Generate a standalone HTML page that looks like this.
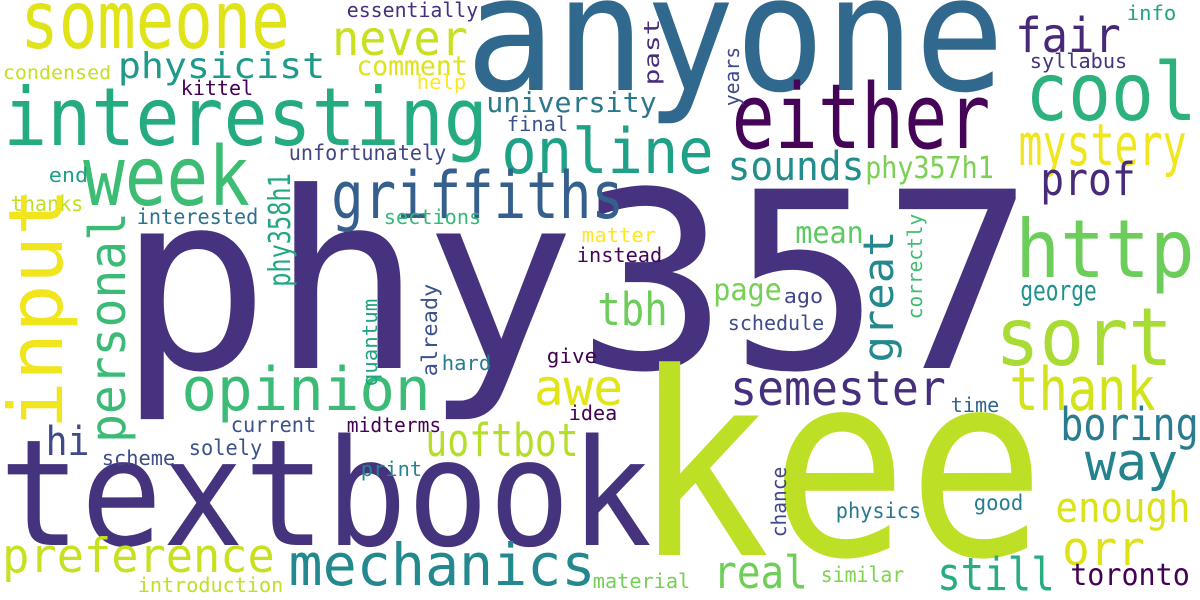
<!DOCTYPE html>
<html><head><meta charset="utf-8"><style>
html,body{margin:0;padding:0;background:#fff;}
svg{display:block;}
text{font-family:"DejaVu Sans Mono","Liberation Mono",monospace;}
</style></head><body>
<svg id="cloud" width="1200" height="600" viewBox="0 0 1200 600" xmlns="http://www.w3.org/2000/svg">
<rect width="1200" height="600" fill="#fff"/>
</svg>
<script>
// word, left, right(or top for rotated), baseline(x for rotated), size, color, rotated
const words = [
["phy357",132,1020,368,246,"#46327e",0],
["kee",648,1030,555,255,"#bddf26",0],
["textbook",8,643,545,148,"#46337e",0],
["anyone",475,995,90,160,"#31688e",0],
["someone",25,285,48,80,"#dfe318",0],
["essentially",348,477,17,20,"#472f7d",0],
["never",335,465,55,48,"#c8e020",0],
["physicist",120,323,78,36,"#1f9a8a",0],
["condensed",4,110,79,19,"#c5e021",0],
["comment",358,466,75,27,"#dde318",0],
["help",418,465,89,20,"#fde725",0],
["kittel",182,252,95,20,"#440154",0],
["interesting",8,483,145,80,"#25ab82",0],
["university",488,655,112,28,"#2a788e",0],
["final",508,567,131,20,"#3b528b",0],
["online",505,710,173,62,"#1fa187",0],
["either",737,985,148,90,"#450457",0],
["cool",1030,1192,120,80,"#2db27d",0],
["fair",1018,1118,52,48,"#482878",0],
["info",1128,1175,20,20,"#20a386",0],
["syllabus",1031,1126,68,20,"#46337f",0],
["mystery",1022,1183,165,58,"#f1e51d",0],
["week",88,245,205,82,"#3dbc74",0],
["griffiths",335,620,218,65,"#355f8d",0],
["sounds",730,862,180,40,"#218e8d",0],
["phy357h1",867,992,178,30,"#7ad151",0],
["prof",1043,1133,195,45,"#472a7a",0],
["http",1020,1190,277,80,"#6ccd5a",0],
["unfortunately",290,445,160,21,"#404688",0],
["end",50,87,182,20,"#1f9e89",0],
["thanks",12,82,211,21,"#c0df25",0],
["interested",138,257,224,21,"#2c728e",0],
["sections",385,480,224,20,"#35b779",0],
["matter",583,655,242,20,"#fde725",0],
["instead",578,661,262,20,"#450559",0],
["mean",797,862,243,30,"#5ec962",0],
["page",715,780,300,30,"#75d054",0],
["ago",785,822,303,20,"#3f4788",0],
["schedule",729,823,330,20,"#3e4c8a",0],
["tbh",600,665,325,45,"#6ccd5a",0],
["george",1022,1095,300,28,"#20928c",0],
["sort",1000,1168,365,80,"#a8db34",0],
["semester",733,943,405,48,"#46307e",0],
["thank",1013,1152,410,60,"#d2e21b",0],
["boring",1063,1196,440,45,"#287c8e",0],
["way",1088,1175,480,52,"#25838e",0],
["time",952,998,412,20,"#31668e",0],
["enough",1058,1188,522,42,"#dae319",0],
["orr",1065,1142,565,47,"#dde318",0],
["toronto",1072,1188,585,30,"#440154",0],
["still",940,1052,590,45,"#27ad81",0],
["real",716,805,588,45,"#6ece58",0],
["similar",822,903,582,21,"#7fd34e",0],
["good",975,1022,510,21,"#287d8e",0],
["physics",837,920,518,21,"#2a788e",0],
["opinion",185,427,410,60,"#3bbb75",0],
["awe",537,620,405,50,"#e2e418",0],
["give",548,596,363,20,"#440154",0],
["hard",443,490,370,20,"#287c8e",0],
["idea",570,616,420,20,"#440154",0],
["hi",48,87,455,40,"#3e4a89",0],
["current",232,315,432,21,"#3b528b",0],
["midterms",348,440,432,20,"#440154",0],
["uoftbot",428,576,456,45,"#b5de2b",0],
["scheme",103,174,465,20,"#3e4c8a",0],
["solely",190,261,455,21,"#3b528b",0],
["print",362,421,476,20,"#25858e",0],
["preference",5,272,572,47,"#c8e020",0],
["mechanics",292,592,585,58,"#23898e",0],
["introduction",139,282,592,20,"#c0df25",0],
["material",594,689,588,20,"#73d056",0],
// rotated: text, bottom, top, baselineX, size
["input",425,192,62,75,"#f1e51d",1],
["personal",440,215,125,50,"#3bbb75",1],
["phy358h1",285,175,290,30,"#22a785",1],
["quantum",385,300,377,20,"#20a386",1],
["already",375,285,437,21,"#3b528b",1],
["past",84,20,659,21,"#472c7a",1],
["years",105,48,739,20,"#3e4a89",1],
["great",360,233,893,42,"#23898e",1],
["correctly",318,215,922,20,"#3fbc73",1],
["chance",536,468,786,20,"#3f4889",1]
];
const svg = document.getElementById('cloud');
const NS = "http://www.w3.org/2000/svg";
words.forEach(w => {
  const [txt, a, b, c, s, col, rot] = w;
  const t = document.createElementNS(NS, 'text');
  t.textContent = txt;
  t.setAttribute('font-size', s);
  t.setAttribute('fill', col);
  const pad = 0.06 * s;
  const len = Math.abs(b - a) + 2 * pad;
  t.setAttribute('textLength', len);
  t.setAttribute('lengthAdjust', 'spacingAndGlyphs');
  if (!rot) {
    t.setAttribute('x', a - pad);
    t.setAttribute('y', c);
  } else {
    const x = c, y = a + pad;
    t.setAttribute('x', x);
    t.setAttribute('y', y);
    t.setAttribute('transform', 'rotate(-90 ' + x + ' ' + y + ')');
  }
  
  
  svg.appendChild(t);
});
</script>
</body></html>
